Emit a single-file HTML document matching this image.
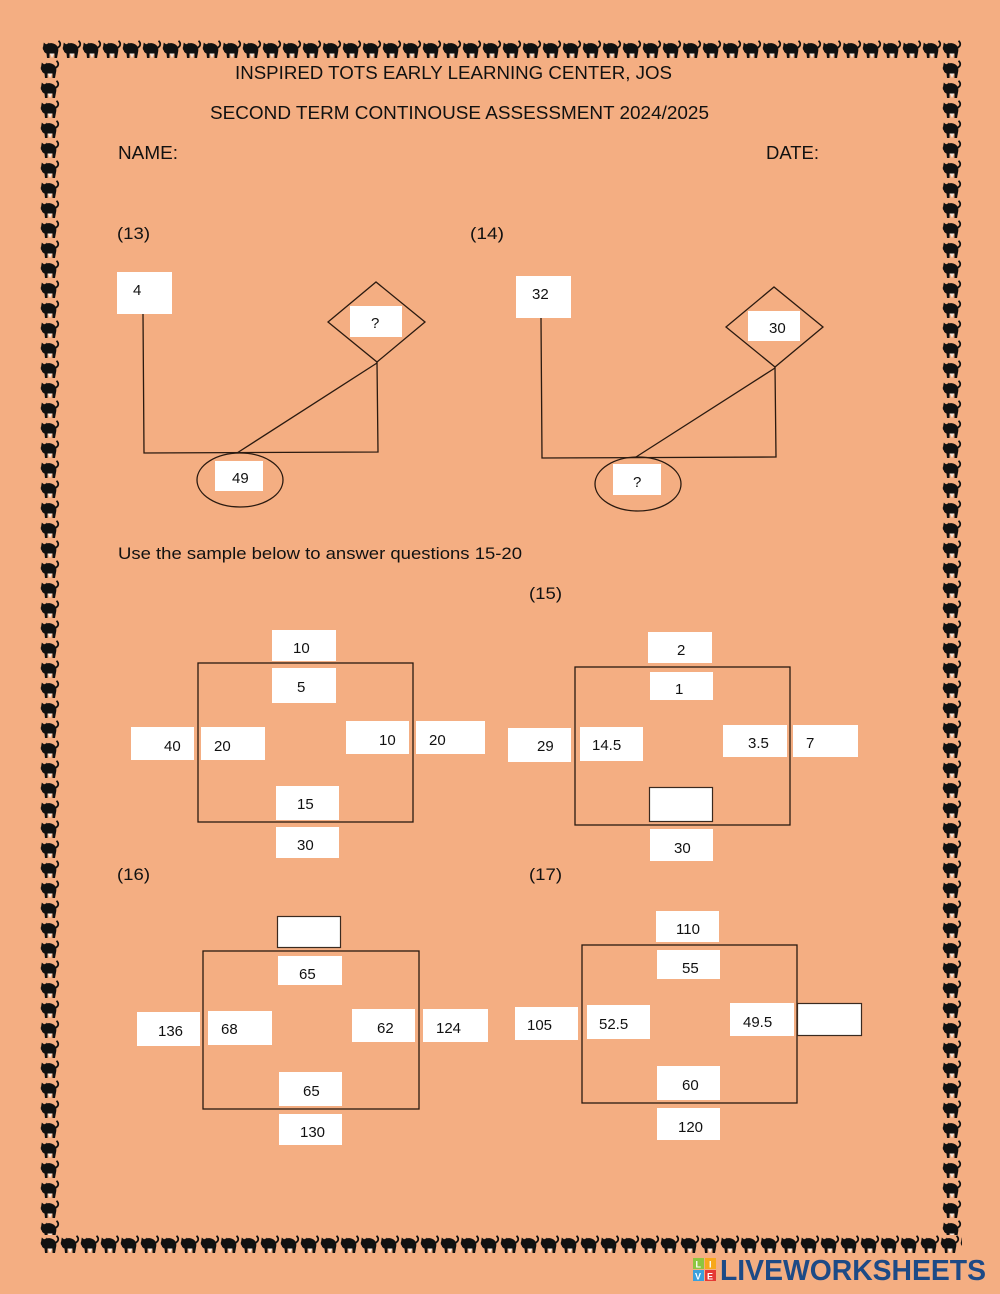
<!DOCTYPE html>
<html>
<head>
<meta charset="utf-8">
<style>
  html,body{margin:0;padding:0;background:#F4AE82;}
  svg{display:block;}
  .t{font-family:"Liberation Sans",sans-serif;font-size:15px;fill:#111;}
  .h{font-family:"Liberation Sans",sans-serif;font-size:18px;fill:#111;}
  .l{font-family:"Liberation Sans",sans-serif;font-size:17px;fill:#111;}
  .w{fill:#fff;}
  .wb{fill:#fff;stroke:#3a2a20;stroke-width:1.2;}
  .ln{stroke:#2a1a10;stroke-width:1.3;fill:none;}
</style>
</head>
<body>
<svg width="1000" height="1294" viewBox="0 0 1000 1294" xmlns="http://www.w3.org/2000/svg">
  <defs>
    <g id="cat">
      <path d="M2,9 C2,3 9,2 12.5,4 C16,5.5 17,9 16,12.5 L15,18 L12.5,18 L12.5,13.5 L7.5,13.5 L7.5,18 L5,18 L4.5,13.5 C2,12.5 1.5,11 2,9Z" fill="#111"/>
      <circle cx="4.5" cy="8" r="3.8" fill="#111"/>
      <path d="M1.2,6 L1.8,2.5 L4.5,4.8 Z M5,4.8 L7,2.5 L7.6,6 Z" fill="#111"/>
      <path d="M15,8 C19,6.5 19,3 16.5,0.8" stroke="#111" stroke-width="1.8" fill="none"/>
      <polygon points="7.8,13.5 12.2,13.5 10,18" fill="#f7e7dc"/>
    </g>
    <pattern id="pt" patternUnits="userSpaceOnUse" x="42" y="40" width="20" height="20">
      <use href="#cat"/>
    </pattern>
    <pattern id="pl" patternUnits="userSpaceOnUse" x="40" y="40" width="20" height="20">
      <use href="#cat"/>
    </pattern>
    <pattern id="pr" patternUnits="userSpaceOnUse" x="942" y="40" width="20" height="20">
      <use href="#cat"/>
    </pattern>
    <pattern id="pb" patternUnits="userSpaceOnUse" x="40" y="1235" width="20" height="20">
      <use href="#cat"/>
    </pattern>
  </defs>

  <rect x="0" y="0" width="1000" height="1294" fill="#F4AE82"/>

  <!-- Border of cats -->
  <rect x="42" y="40" width="920" height="20" fill="url(#pt)"/>
  <rect x="40" y="60" width="20" height="1175" fill="url(#pl)"/>
  <rect x="942" y="60" width="20" height="1175" fill="url(#pr)"/>
  <rect x="40" y="1235" width="922" height="20" fill="url(#pb)"/>

  <!-- Header -->
  <text class="h" x="235" y="79" textLength="437" lengthAdjust="spacingAndGlyphs">INSPIRED TOTS EARLY LEARNING CENTER, JOS</text>
  <text class="h" x="210" y="119" textLength="499" lengthAdjust="spacingAndGlyphs">SECOND TERM CONTINOUSE ASSESSMENT 2024/2025</text>
  <text class="h" x="118" y="159" textLength="60" lengthAdjust="spacingAndGlyphs">NAME:</text>
  <text class="h" x="766" y="159" textLength="53" lengthAdjust="spacingAndGlyphs">DATE:</text>

  <!-- (13) -->
  <text class="l" x="117" y="239" textLength="33" lengthAdjust="spacingAndGlyphs">(13)</text>
  <rect class="w" x="117" y="272" width="55" height="42"/>
  <text class="t" x="133" y="295">4</text>
  <polyline class="ln" points="143,314 144,453 378,452 377,362"/>
  <line class="ln" x1="377" y1="363" x2="237" y2="453"/>
  <polygon class="ln" points="328,322 376,282 425,322 377,362"/>
  <rect class="w" x="350" y="306" width="52" height="31"/>
  <text class="t" x="371" y="328">?</text>
  <ellipse class="ln" cx="240" cy="480" rx="43" ry="27"/>
  <rect class="w" x="215" y="461" width="48" height="30"/>
  <text class="t" x="232" y="483">49</text>

  <!-- (14) -->
  <text class="l" x="470" y="239" textLength="34" lengthAdjust="spacingAndGlyphs">(14)</text>
  <rect class="w" x="516" y="276" width="55" height="42"/>
  <text class="t" x="532" y="299">32</text>
  <polyline class="ln" points="541,318 542,458 776,457 775,367"/>
  <line class="ln" x1="775" y1="368" x2="636" y2="457"/>
  <polygon class="ln" points="726,327 774,287 823,327 775,367"/>
  <rect class="w" x="748" y="311" width="52" height="30"/>
  <text class="t" x="769" y="333">30</text>
  <ellipse class="ln" cx="638" cy="484" rx="43" ry="27"/>
  <rect class="w" x="613" y="464" width="48" height="31"/>
  <text class="t" x="633" y="487">?</text>

  <text class="l" x="118" y="559" textLength="404" lengthAdjust="spacingAndGlyphs">Use the sample below to answer questions 15-20</text>

  <!-- Sample -->
  <rect class="ln" x="198" y="663" width="215" height="159"/>
  <rect class="w" x="272" y="630" width="64" height="31"/>
  <text class="t" x="293" y="653">10</text>
  <rect class="w" x="272" y="668" width="64" height="35"/>
  <text class="t" x="297" y="692">5</text>
  <rect class="w" x="131" y="727" width="63" height="33"/>
  <text class="t" x="164" y="751">40</text>
  <rect class="w" x="201" y="727" width="64" height="33"/>
  <text class="t" x="214" y="751">20</text>
  <rect class="w" x="346" y="721" width="63" height="33"/>
  <text class="t" x="379" y="745">10</text>
  <rect class="w" x="416" y="721" width="69" height="33"/>
  <text class="t" x="429" y="745">20</text>
  <rect class="w" x="276" y="786" width="63" height="34"/>
  <text class="t" x="297" y="809">15</text>
  <rect class="w" x="276" y="827" width="63" height="31"/>
  <text class="t" x="297" y="850">30</text>

  <!-- (15) -->
  <text class="l" x="529" y="599" textLength="33" lengthAdjust="spacingAndGlyphs">(15)</text>
  <rect class="ln" x="575" y="667" width="215" height="158"/>
  <rect class="w" x="648" y="632" width="64" height="31"/>
  <text class="t" x="677" y="655">2</text>
  <rect class="w" x="650" y="672" width="63" height="28"/>
  <text class="t" x="675" y="694">1</text>
  <rect class="w" x="508" y="728" width="63" height="34"/>
  <text class="t" x="537" y="751">29</text>
  <rect class="w" x="580" y="727" width="63" height="34"/>
  <text class="t" x="592" y="750">14.5</text>
  <rect class="w" x="723" y="725" width="64" height="32"/>
  <text class="t" x="748" y="748">3.5</text>
  <rect class="w" x="793" y="725" width="65" height="32"/>
  <text class="t" x="806" y="748">7</text>
  <rect class="wb" x="649.5" y="787.5" width="63" height="34"/>
  <rect class="w" x="650" y="829" width="63" height="32"/>
  <text class="t" x="674" y="853">30</text>

  <!-- (16) -->
  <text class="l" x="117" y="880" textLength="33" lengthAdjust="spacingAndGlyphs">(16)</text>
  <rect class="ln" x="203" y="951" width="216" height="158"/>
  <rect class="wb" x="277.5" y="916.5" width="63" height="31"/>
  <rect class="w" x="278" y="956" width="64" height="29"/>
  <text class="t" x="299" y="979">65</text>
  <rect class="w" x="137" y="1012" width="63" height="34"/>
  <text class="t" x="158" y="1036">136</text>
  <rect class="w" x="208" y="1011" width="64" height="34"/>
  <text class="t" x="221" y="1034">68</text>
  <rect class="w" x="352" y="1009" width="63" height="33"/>
  <text class="t" x="377" y="1033">62</text>
  <rect class="w" x="423" y="1009" width="65" height="33"/>
  <text class="t" x="436" y="1033">124</text>
  <rect class="w" x="279" y="1072" width="63" height="34"/>
  <text class="t" x="303" y="1096">65</text>
  <rect class="w" x="279" y="1114" width="63" height="31"/>
  <text class="t" x="300" y="1137">130</text>

  <!-- (17) -->
  <text class="l" x="529" y="880" textLength="33" lengthAdjust="spacingAndGlyphs">(17)</text>
  <rect class="ln" x="582" y="945" width="215" height="158"/>
  <rect class="w" x="656" y="911" width="63" height="31"/>
  <text class="t" x="676" y="934">110</text>
  <rect class="w" x="657" y="950" width="63" height="29"/>
  <text class="t" x="682" y="973">55</text>
  <rect class="w" x="515" y="1007" width="63" height="33"/>
  <text class="t" x="527" y="1030">105</text>
  <rect class="w" x="587" y="1005" width="63" height="34"/>
  <text class="t" x="599" y="1029">52.5</text>
  <rect class="w" x="730" y="1003" width="64" height="33"/>
  <text class="t" x="743" y="1027">49.5</text>
  <rect class="wb" x="797.5" y="1003.5" width="64" height="32"/>
  <rect class="w" x="657" y="1066" width="63" height="34"/>
  <text class="t" x="682" y="1090">60</text>
  <rect class="w" x="657" y="1108" width="63" height="32"/>
  <text class="t" x="678" y="1132">120</text>

  <!-- LIVEWORKSHEETS logo -->
  <rect x="693" y="1258" width="11" height="11" fill="#8cc63f"/>
  <rect x="705" y="1258" width="11" height="11" fill="#f7a81b"/>
  <rect x="693" y="1270" width="11" height="11" fill="#3aa0dc"/>
  <rect x="705" y="1270" width="11" height="11" fill="#e53935"/>
  <text x="695.5" y="1267.5" style="font-family:'Liberation Sans',sans-serif;font-size:9px;font-weight:bold;fill:#fff">L</text>
  <text x="709" y="1267.5" style="font-family:'Liberation Sans',sans-serif;font-size:9px;font-weight:bold;fill:#fff">I</text>
  <text x="695" y="1279.5" style="font-family:'Liberation Sans',sans-serif;font-size:9px;font-weight:bold;fill:#fff">V</text>
  <text x="707" y="1279.5" style="font-family:'Liberation Sans',sans-serif;font-size:9px;font-weight:bold;fill:#fff">E</text>
  <text x="720" y="1280" textLength="266" lengthAdjust="spacingAndGlyphs" style="font-family:'Liberation Sans',sans-serif;font-size:29px;font-weight:bold;fill:#1d4a86">LIVEWORKSHEETS</text>
</svg>
</body>
</html>
